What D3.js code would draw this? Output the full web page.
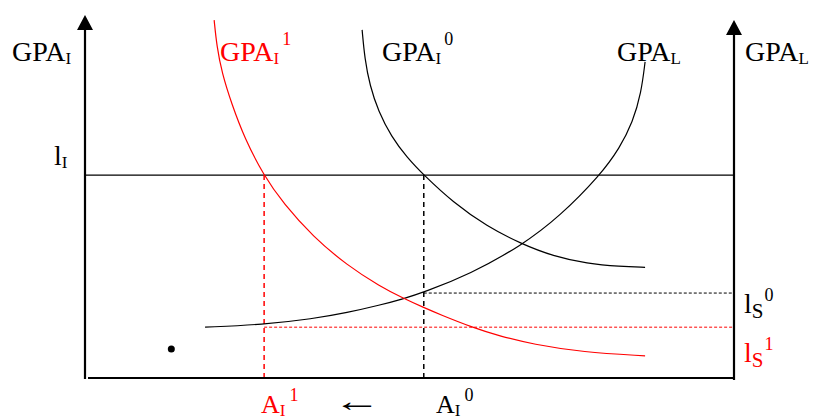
<!DOCTYPE html>
<html>
<head>
<meta charset="utf-8">
<script src="https://cdn.jsdelivr.net/npm/d3@7"></script>
<style>
  body { margin: 0; background: #fff; }
  svg text { font-family: "Liberation Serif", "Times New Roman", serif; }
</style>
</head>
<body>
<div id="chart"></div>
<script>
/**
 * Curve data. Both axes run 0..100 (arbitrary units).
 */
var gpaL  = [[18.5,14.0],[27.4,14.7],[35.1,16.3],[40.4,18.0],[45.5,20.1],[49.0,21.8],
             [52.2,23.6],[59.3,28.6],[67.3,36.5],[73.2,44.6],[79.4,55.9],[82.4,63.4],
             [84.4,70.5],[85.7,78.5],[86.3,87.1]];
var gpaI0 = [[42.7,95.9],[43.1,88.0],[43.9,80.5],[45.2,73.5],[47.2,66.5],[49.6,60.8],
             [52.2,55.9],[56.7,48.4],[61.9,41.8],[67.3,36.9],[72.1,33.6],[77.4,31.5],
             [82.4,30.7],[86.3,30.5]];
var gpaI1 = [[19.9,98.6],[20.3,91.5],[21.1,84.0],[22.6,75.5],[24.6,66.0],[27.5,55.9],
             [30.6,48.0],[35.1,39.0],[40.4,31.0],[45.5,25.2],[49.0,22.0],[52.2,19.4],
             [54.7,17.5],[59.6,14.0],[64.0,11.5],[69.0,9.3],[76.7,7.1],[86.3,6.1]];

var levelI  = 55.9;            // l_I
var aI      = [52.2, 27.6];    // A_I^0, A_I^1
var levelS  = [23.4, 14.0];    // l_S^0, l_S^1
var dot     = [[13.3, 8.0]];

var _xRange, _yRange;
var _w = 817, _h = 419;
var RED = "#ff0000";

function scaleX() { return d3.scaleLinear().domain([0, 100]).range([85, 734]); }
function scaleY() { return d3.scaleLinear().domain([0, 100]).range([378, 15]); }

/**
 * Smooth line through the read points; basis spline irons out reading noise.
 */
function getLine() {
	return d3.line()
		.curve(d3.curveBasis)
		.x(function(d) { return _xRange(d[0]); })
		.y(function(d) { return _yRange(d[1]); });
}

/**
 * Writes base text with optional subscript and superscript following it.
 */
function label(svg, x, y, base, sub, sup, color, opt) {
	opt = opt || {};
	var size = opt.size || 28, subSize = opt.subSize || 17, supSize = opt.supSize || 18;
	var subDy = opt.subDy || 3, supDy = opt.supDy || -16;
	var t = svg.append("text").attr("x", x).attr("y", y).attr("fill", color)
		.attr("font-size", size);
	t.append("tspan").text(base);
	if (sub) t.append("tspan").attr("font-size", subSize).attr("dy", subDy).text(sub);
	if (sup) t.append("tspan").attr("font-size", supSize).attr("dx", opt.supDx || 3)
		.attr("dy", supDy - subDy).text(sup);
	return t;
}

function arrowHead(svg, cx, tipY) {
	svg.append("path")
		.attr("d", "M" + cx + "," + tipY + "L" + (cx - 8) + "," + (tipY + 15) +
			"L" + (cx + 8) + "," + (tipY + 15) + "Z")
		.attr("fill", "#000");
}

function draw() {
	_xRange = scaleX();
	_yRange = scaleY();
	var svg = d3.select("#chart").append("svg").attr("width", _w).attr("height", _h);

	var x0 = _xRange(0), x1 = _xRange(100), y0 = _yRange(0);

	// horizontal l_I
	svg.append("line").attr("x1", x0).attr("x2", x1)
		.attr("y1", _yRange(levelI)).attr("y2", _yRange(levelI))
		.attr("stroke", "#000").attr("stroke-width", 1.2);

	// dashed verticals from l_I down to the axis
	svg.selectAll(".vdash").data(aI).enter().append("line")
		.attr("x1", function(d) { return _xRange(d); })
		.attr("x2", function(d) { return _xRange(d); })
		.attr("y1", _yRange(levelI)).attr("y2", y0)
		.attr("stroke", function(d, i) { return i ? RED : "#000"; })
		.attr("stroke-width", 1.5).attr("stroke-dasharray", "5,4");

	// dotted horizontals for l_S
	svg.selectAll(".hdot").data(levelS).enter().append("line")
		.attr("x1", function(d, i) { return _xRange(aI[i]); })
		.attr("x2", x1)
		.attr("y1", function(d) { return _yRange(d); })
		.attr("y2", function(d) { return _yRange(d); })
		.attr("stroke", function(d, i) { return i ? RED : "#000"; })
		.attr("stroke-width", 1).attr("stroke-dasharray", "3,2");

	// curves
	var line = getLine();
	[[gpaL, "#000"], [gpaI0, "#000"], [gpaI1, RED]].forEach(function(c) {
		svg.append("path").datum(c[0]).attr("d", line)
			.attr("fill", "none").attr("stroke", c[1]).attr("stroke-width", 1.2);
	});

	// axes
	svg.append("line").attr("x1", x0).attr("x2", x0).attr("y1", y0 + 1).attr("y2", _yRange(100) + 10)
		.attr("stroke", "#000").attr("stroke-width", 2.2);
	arrowHead(svg, x0, _yRange(100));
	svg.append("line").attr("x1", x1).attr("x2", x1).attr("y1", y0 + 2).attr("y2", _yRange(98.6) + 10)
		.attr("stroke", "#000").attr("stroke-width", 2.2);
	arrowHead(svg, x1, _yRange(98.6));
	svg.append("line").attr("x1", x0 + 3).attr("x2", x1).attr("y1", y0).attr("y2", y0)
		.attr("stroke", "#000").attr("stroke-width", 2.2);

	// dot
	svg.selectAll(".dot").data(dot).enter().append("circle")
		.attr("cx", function(d) { return _xRange(d[0]); })
		.attr("cy", function(d) { return _yRange(d[1]); })
		.attr("r", 3.5).attr("fill", "#000");

	// labels
	label(svg, 12, 61, "GPA", "I", null, "#000");
	label(svg, 220, 61, "GPA", "I", "1", RED);
	label(svg, 382, 61, "GPA", "I", "0", "#000");
	label(svg, 617, 61, "GPA", "L", null, "#000");
	label(svg, 745, 61, "GPA", "L", null, "#000");
	label(svg, 54, 165, "l", "I", null, "#000");
	label(svg, 744, 313, "l", "S", "0", "#000", { subSize: 21, subDy: 5, supDy: -12, supDx: 1 });
	label(svg, 744, 362, "l", "S", "1", RED, { subSize: 21, subDy: 5, supDy: -12, supDx: 1 });
	label(svg, 261, 413, "A", "I", "1", RED, { size: 26, supDy: -12, supDx: 4 });
	label(svg, 436, 413, "A", "I", "0", "#000", { size: 26, supDy: -12, supDx: 4 });
	svg.append("text").attr("x", 0).attr("y", 411).attr("font-size", 30)
		.attr("transform", "translate(333,0) scale(1.6,1)").text("\u2190");
}

draw();
</script>
</body>
</html>
